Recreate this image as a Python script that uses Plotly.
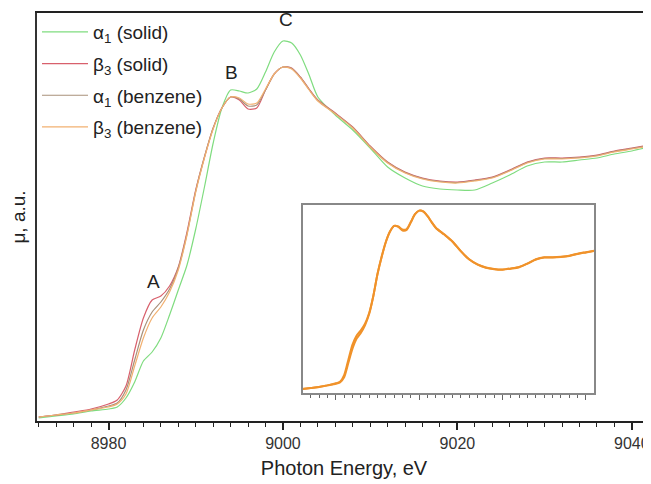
import plotly.graph_objects as go

# Photon energy grid (eV)
energy = [8972, 8974, 8976, 8978,
          8980, 8981, 8982, 8983, 8984, 8985, 8986, 8987, 8988, 8989, 8990,
          8991, 8992, 8993, 8994, 8995, 8996, 8997, 8998, 8999, 9000, 9001,
          9002, 9003, 9004,
          9006, 9008, 9010, 9012, 9014, 9016, 9018, 9020, 9022, 9024, 9026,
          9028, 9030, 9032, 9034, 9036, 9038, 9040, 9042]

alpha1_solid = [-0.012, -0.004, 0.004, 0.016,
                0.024, 0.032, 0.068, 0.132, 0.216, 0.252, 0.308, 0.400, 0.500, 0.600, 0.744,
                0.912, 1.088, 1.228, 1.300, 1.296, 1.288, 1.304, 1.372, 1.452, 1.496, 1.488,
                1.440, 1.360, 1.272,
                1.200, 1.140, 1.068, 0.992, 0.948, 0.916, 0.904, 0.900, 0.900, 0.928, 0.960,
                0.996, 1.012, 1.012, 1.020, 1.028, 1.044, 1.056, 1.072]

beta3_solid = [-0.008, 0.000, 0.012, 0.024,
               0.044, 0.060, 0.116, 0.260, 0.388, 0.460, 0.476, 0.516, 0.592, 0.732, 0.900,
               1.032, 1.148, 1.228, 1.272, 1.260, 1.224, 1.228, 1.300, 1.364, 1.392, 1.388,
               1.352, 1.304, 1.260,
               1.208, 1.152, 1.076, 1.012, 0.972, 0.948, 0.936, 0.932, 0.940, 0.952, 0.980,
               1.012, 1.028, 1.028, 1.032, 1.040, 1.056, 1.068, 1.080]

alpha1_benzene = [-0.008, 0.000, 0.008, 0.020,
                  0.036, 0.048, 0.100, 0.220, 0.340, 0.412, 0.452, 0.504, 0.588, 0.724, 0.896,
                  1.032, 1.148, 1.228, 1.272, 1.264, 1.236, 1.240, 1.300, 1.364, 1.392, 1.386,
                  1.350, 1.302, 1.258,
                  1.206, 1.150, 1.074, 1.010, 0.970, 0.946, 0.934, 0.930, 0.938, 0.950, 0.978,
                  1.010, 1.026, 1.026, 1.030, 1.038, 1.054, 1.066, 1.078]

beta3_benzene = [-0.008, 0.000, 0.008, 0.020,
                 0.032, 0.044, 0.084, 0.196, 0.308, 0.388, 0.432, 0.492, 0.580, 0.720, 0.892,
                 1.028, 1.144, 1.228, 1.272, 1.268, 1.244, 1.248, 1.304, 1.364, 1.392, 1.384,
                 1.348, 1.300, 1.256,
                 1.204, 1.148, 1.072, 1.008, 0.968, 0.944, 0.932, 0.928, 0.936, 0.948, 0.976,
                 1.008, 1.024, 1.024, 1.028, 1.036, 1.052, 1.064, 1.076]

series_names = ["α<sub>1</sub> (solid)", "β<sub>3</sub> (solid)",
                "α<sub>1</sub> (benzene)", "β<sub>3</sub> (benzene)"]
series_colors = ["#7fdc7f", "#d8606c", "#a8907a", "#f2b070"]
series_values = [alpha1_solid, beta3_solid, alpha1_benzene, beta3_benzene]

peak_labels = ["A", "B", "C"]
peak_x = [8985.1, 8994.1, 9000.3]
peak_y = [0.536, 1.372, 1.584]

FONT = "Liberation Sans, Arial, sans-serif"

fig = go.Figure()
for i, (name, col, vals) in enumerate(zip(series_names, series_colors, series_values)):
    fig.add_trace(go.Scatter(
        x=energy, y=vals, mode="lines", name=name,
        line=dict(color=col, width=1.2, shape="spline", smoothing=0.7),
        legendgroup=f"g{i}", xaxis="x", yaxis="y"))

# inset: benzene spectra
for vals in [alpha1_benzene, beta3_benzene]:
    fig.add_trace(go.Scatter(
        x=energy, y=vals, mode="lines", showlegend=False,
        line=dict(color="#f0922a", width=2, shape="spline", smoothing=0.7),
        xaxis="x2", yaxis="y2"))

for lab, px, py in zip(peak_labels, peak_x, peak_y):
    fig.add_annotation(x=px, y=py, text=lab, showarrow=False, xref="x", yref="y",
                       font=dict(size=19, color="#222", family=FONT))

# the page body adds an 8px margin, so the figure is sized/offset to compensate
fig.update_layout(
    width=643, height=476,
    margin=dict(l=29, r=0, t=5, b=63, autoexpand=False),
    paper_bgcolor="white", plot_bgcolor="white",
    font=dict(family=FONT, color="#222"),
    showlegend=True,
    legend=dict(x=0.0, y=1.0, xanchor="left", yanchor="top",
                bgcolor="rgba(0,0,0,0)", font=dict(size=19, family=FONT, color="#222"),
                tracegroupgap=4, itemwidth=46),
    xaxis=dict(range=[8971.8, 9042.2], domain=[0, 1], automargin=False,
               showgrid=False, zeroline=False,
               showline=True, linecolor="#222", linewidth=2, mirror=True,
               ticks="outside", ticklen=7, tickwidth=1.5, tickcolor="#222",
               tick0=8980, dtick=20,
               tickfont=dict(size=16, family=FONT, color="#333"),
               minor=dict(ticks="outside", ticklen=4, tickwidth=1.2, tickcolor="#222", dtick=2),
               title=dict(text="Photon Energy, eV", font=dict(size=20, family=FONT, color="#222"),
                          standoff=10)),
    yaxis=dict(range=[-0.024, 1.608], domain=[0, 1], automargin=False,
               showgrid=False, zeroline=False, showticklabels=False,
               showline=True, linecolor="#333", linewidth=2, ticks="",
               title=dict(text="μ, a.u.", font=dict(size=19, family=FONT, color="#222"),
                          standoff=4)),
    xaxis2=dict(range=[8972.1, 9041.9], domain=[0.433, 0.907], anchor="y2",
                showgrid=False, zeroline=False, showticklabels=False,
                showline=True, linecolor="#888", linewidth=1.5, mirror=True,
                ticks="outside", ticklen=5, tickwidth=1.2, tickcolor="#666",
                tick0=8980, dtick=20,
                minor=dict(ticks="outside", ticklen=3, tickwidth=1, tickcolor="#666", dtick=2)),
    yaxis2=dict(range=[-0.04, 1.435], domain=[0.0686, 0.529], anchor="x2",
                showgrid=False, zeroline=False, showticklabels=False,
                showline=True, linecolor="#888", linewidth=1.5, mirror=True, ticks=""),
)

fig.write_html("out.html")
